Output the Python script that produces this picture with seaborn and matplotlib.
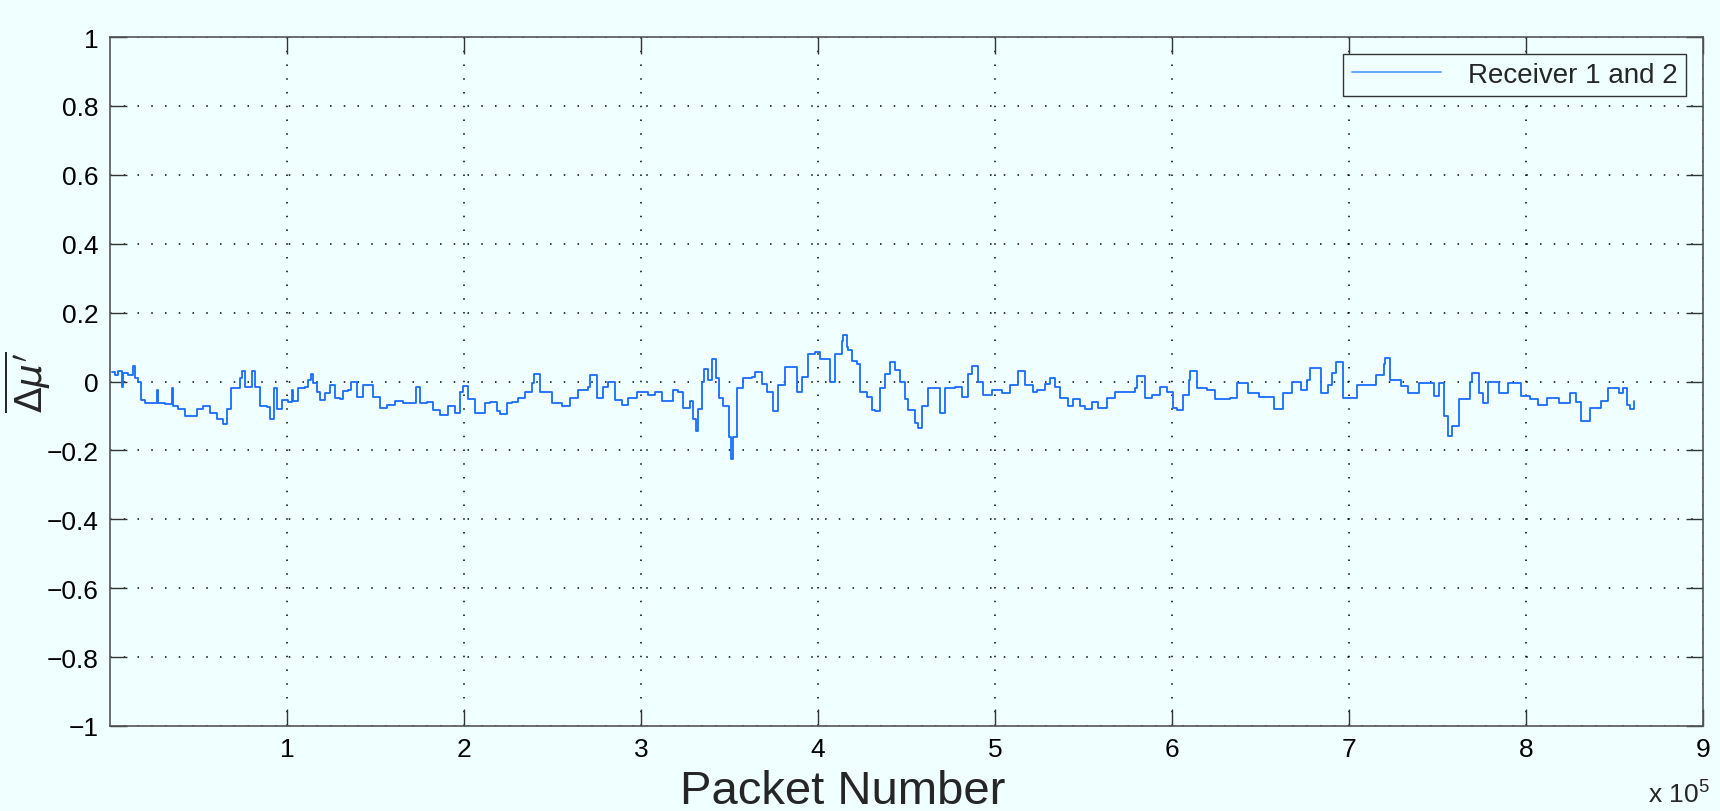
import matplotlib
matplotlib.use("Agg")
import matplotlib.pyplot as plt
import numpy as np
import pandas as pd
import seaborn as sns

# packet number (in thousands) and mean delta mu'
packet_k = [
    1, 2.8, 4.7, 6.6, 7.5, 10.4, 13.2, 14.1, 16.0, 17.5, 19.8, 23.5, 26.4, 27.3, 31.1,
    34.8, 35.8, 38.6, 42.4, 46.1, 49.0, 52.7, 56.5, 60.3, 64.0, 65.9, 68.4, 71.6, 73.4,
    74.4, 76.3, 80.0, 81.9, 84.7, 88.5, 90.4, 92.8, 94.1, 97.0, 100.7, 102.6,
    103.6, 106.4, 110.2, 112.1, 113.4, 114.9, 116.8, 118.6, 121.5, 124.3, 127.1, 130.0,
    131.8, 134.7, 136.0, 139.4, 143.1, 145.4, 148.8, 152.5, 156.3, 161.0, 165.7, 169.5,
    172.9, 175.1, 178.9, 182.7, 186.4, 191.1, 194.9, 197.7, 199.6, 202.4, 206.2,
    208.1, 211.8, 214.7, 218.4, 220.3, 224.1, 226.9, 230.7, 234.4, 238.2, 239.7, 242.9,
    245.7, 249.5, 255.2, 259.9, 264.6, 270.2, 271.2, 274.9, 278.7, 281.5, 285.3, 289.1,
    292.8, 297.5, 304.1, 307.9, 311.6,
    312.6, 318.2, 321.1, 323.9, 327.6, 329.5, 331.0, 332.4, 334.2, 335.6, 338.0, 339.9,
    342.3, 344.2, 346.5, 348.4, 349.7, 350.8, 352.1, 354.0, 357.8, 362.5, 364.4, 368.1,
    371.0, 374.7, 377.5, 381.3, 385.1, 387.9, 390.7, 394.5, 398.3, 401.1, 404.9, 406.7,
    409.6, 413.3, 413.9, 416.2,
    417.2, 419.1, 421.9, 423.8, 427.5, 430.4, 432.2, 435.1, 437.9, 440.7, 443.5, 446.4,
    449.2, 451.1, 454.8, 456.3, 458.6, 462.4, 466.1, 469.0, 471.8, 477.4, 481.2, 485.0,
    487.2, 490.6, 493.4, 498.2, 503.8, 508.5, 513.2, 517.0, 521.7,
    523.6, 528.3, 531.1, 533.9, 536.7, 541.5, 544.3, 548.0, 550.9, 554.6, 558.4, 563.1,
    567.8, 573.5, 579.1, 580.1, 584.8, 588.5, 593.2, 597.0, 600.8, 602.7, 606.4, 609.8,
    610.2, 614.0, 619.6, 624.3,
    632.8, 636.9, 643.1, 649.3, 657.5, 662.6, 667.7, 672.9, 676.0, 678.0, 684.2, 688.3,
    690.4, 692.4, 696.5, 701.7, 704.7, 710.9, 715.0, 719.5, 720.1, 723.2, 729.4, 733.5,
    739.7, 747.9, 751.0, 753.6, 756.1, 758.2, 762.3, 768.4, 769.5, 773.6, 775.6, 778.7,
    784.9, 790.0, 797.2, 802.3, 806.5, 811.6, 818.8, 825.0, 828.0, 831.1, 836.3, 842.4,
    846.5, 852.7, 854.8, 856.8, 858.9, 860.9,
]
delta_mu = [
    0.027, 0.02, 0.03, -0.015, 0.025, 0.02, 0.046, 0.01, 0.0, -0.053, -0.063, -0.063, -0.025, -0.063, -0.065,
    -0.02, -0.07, -0.08, -0.1, -0.1, -0.08, -0.07, -0.09, -0.11, -0.124, -0.08, -0.02, -0.02, 0.01,
    0.03, -0.015, 0.03, -0.015, -0.072, -0.075, -0.11, -0.02, -0.08, -0.053, -0.06, -0.025,
    -0.058, -0.02, -0.015, 0.004, 0.023, -0.005, -0.03, -0.053, -0.034, -0.01, -0.048, -0.05,
    -0.028, -0.025, 0.0, -0.045, -0.01, -0.01, -0.045, -0.077, -0.067, -0.058, -0.063, -0.063,
    -0.015, -0.063, -0.06, -0.082, -0.096, -0.072, -0.09, -0.03, -0.012, -0.05, -0.09,
    -0.09, -0.063, -0.06, -0.086, -0.095, -0.063, -0.06, -0.048, -0.03, -0.005, 0.023, -0.03,
    -0.03, -0.063, -0.07, -0.048, -0.025, -0.015, 0.018, -0.048, -0.015, 0.0, -0.053, -0.067,
    -0.048, -0.03, -0.038, -0.03, -0.058,
    -0.058, -0.025, -0.03, -0.077, -0.058, -0.11, -0.143, -0.08, 0.0, 0.037, 0.005, 0.065,
    0.009, -0.048, -0.072, -0.07, -0.16, -0.224, -0.16, -0.02, 0.009, 0.013, 0.028, -0.006,
    -0.03, -0.087, -0.01, 0.042, 0.042, -0.03, 0.013, 0.08, 0.085, 0.065, 0.065, 0.0,
    0.08, 0.118, 0.136, 0.1,
    0.09, 0.06, 0.05, -0.03, -0.045, -0.082, -0.085, -0.02, 0.023, 0.056, 0.032, 0.0,
    -0.05, -0.082, -0.12, -0.134, -0.072, -0.02, -0.02, -0.09, -0.02, -0.015, -0.045, 0.023,
    0.046, 0.0, -0.04, -0.025, -0.034, -0.01, 0.03, -0.01, -0.03,
    -0.025, -0.006, 0.01, -0.015, -0.048, -0.072, -0.05, -0.07, -0.08, -0.06, -0.077, -0.048,
    -0.03, -0.03, -0.02, 0.017, -0.048, -0.04, -0.015, -0.03, -0.077, -0.083, -0.04, 0.004,
    0.03, -0.02, -0.025, -0.05,
    -0.048, -0.005, -0.033, -0.045, -0.081, -0.033, 0.0, -0.024, 0.005, 0.038, -0.033, -0.01,
    0.024, 0.057, -0.048, -0.048, -0.01, -0.01, 0.019, 0.052, 0.069, 0.005, -0.014, -0.033,
    -0.005, -0.043, -0.005, -0.1, -0.157, -0.128, -0.05, 0.0, 0.024, -0.033, -0.062, 0.0,
    -0.033, -0.005, -0.043, -0.052, -0.067, -0.048, -0.062, -0.033, -0.06, -0.114, -0.076, -0.057,
    -0.02, -0.033, -0.02, -0.067, -0.081, -0.057,
]
x_ticks = [1, 2, 3, 4, 5, 6, 7, 8, 9]
y_ticks = [-1, -0.8, -0.6, -0.4, -0.2, 0, 0.2, 0.4, 0.6, 0.8, 1]

sns.set_style("ticks")
plt.rcParams['font.family'] = ['Liberation Sans', 'DejaVu Sans']

bg = '#f0ffff'
df = pd.DataFrame({'packet': np.array(packet_k) * 1000, 'dmu': delta_mu})

fig = plt.figure(figsize=(17.2, 8.12), dpi=100, facecolor=bg)
ax = fig.add_subplot(111)
fig.subplots_adjust(left=110 / 1720, right=1703 / 1720, top=1 - 38 / 812, bottom=1 - 727 / 812)
ax.set_facecolor(bg)

sns.lineplot(data=df, x='packet', y='dmu', ax=ax, color='#1a6cff', linewidth=1.3,
             drawstyle='steps-post', estimator=None, sort=False, label='Receiver 1 and 2')

ax.set_xlim(0, 9e5)
ax.set_ylim(-1, 1)
ax.set_xticks([t * 1e5 for t in x_ticks])
ax.set_xticklabels([str(t) for t in x_ticks])
ax.set_yticks(y_ticks)
ax.set_yticklabels([f'{v:g}'.replace('-', '\u2212') for v in y_ticks])
ax.grid(True, color='black', linestyle=(0, (1, 8)), linewidth=1.1)
ax.tick_params(direction='in', length=12, width=1, labelsize=19, top=True, right=True,
               colors='#333333', labelcolor='black', pad=8)
for s in ax.spines.values():
    s.set_color('#555555')
    s.set_linewidth(1.2)

ax.set_xlabel('Packet Number', fontsize=34)
ax.xaxis.set_label_coords(0.46, -0.062)
ax.set_ylabel(r'$\overline{\Delta\mu^{\prime}}$', fontsize=27)
ax.yaxis.set_label_coords(-0.036, 0.5)

fig.text(0.994, 0.006, r'x 10$^{\mathregular{5}}$', fontsize=19, ha='right', va='bottom')

leg = ax.legend(loc='upper right', fontsize=20, frameon=True, fancybox=False,
                borderaxespad=0.6, handlelength=3.2, borderpad=0.3, handletextpad=1.0)
leg.get_frame().set_edgecolor('#333333')
leg.get_frame().set_facecolor(bg)
leg.get_frame().set_alpha(1)
leg.get_frame().set_linewidth(1.0)
for h in leg.get_lines():
    h.set_color('#5b9bff')

fig.savefig('out.png', dpi=100, facecolor=bg)
